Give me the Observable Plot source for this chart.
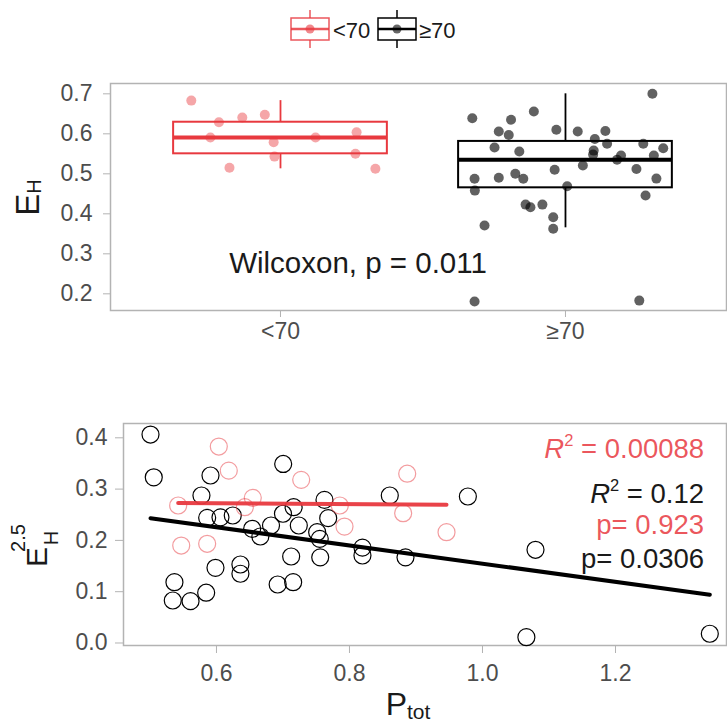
<!DOCTYPE html>
<html>
<head>
<meta charset="utf-8">
<script src="https://cdn.jsdelivr.net/npm/d3@7"></script>
<script src="https://cdn.jsdelivr.net/npm/@observablehq/plot@0.6"></script>
<style>
  body { margin: 0; background: #fff; font-family: "Liberation Sans", Arial, sans-serif; }
  #chart { width: 727px; height: 725px; position: relative; }
  svg { display: block; }
  g[aria-label$="axis tick"] path, .tick line { stroke: #b3b3b3; }
</style>
</head>
<body>
<div id="chart"></div>
<script>
// ---------- data ----------
const groups = ["<70", "≥70"];
const red = "#e8393f";
const groupColors = [red, "#000000"];

// Top panel: E_H per sample, with the horizontal jitter offset (category units)
const ehLow = [0.683, 0.629, 0.641, 0.6475, 0.591, 0.579, 0.591, 0.543, 0.515, 0.604, 0.550, 0.5125];
const jitLow = [-0.313, -0.216, -0.134, -0.055, -0.246, -0.024, 0.123, -0.021, -0.179, 0.267, 0.263, 0.333];
const ehHigh = [0.639, 0.635, 0.656, 0.606, 0.597, 0.610, 0.606, 0.607, 0.587, 0.575, 0.575, 0.564, 0.566,
                0.556, 0.558, 0.548, 0.546, 0.535, 0.546, 0.521, 0.510, 0.512, 0.4875, 0.490, 0.500, 0.4875,
                0.488, 0.458, 0.469, 0.446, 0.423, 0.4165, 0.423, 0.3915, 0.3625, 0.371, 0.700, 0.181, 0.183];
const jitHigh = [-0.327, -0.191, -0.111, -0.234, -0.199, -0.032, 0.043, 0.140, 0.103, 0.146, 0.273, 0.343, -0.249,
                 -0.162, 0.099, 0.097, 0.195, 0.181, 0.310, 0.061, -0.038, 0.249, -0.319, -0.234, -0.176, -0.148,
                 0.319, -0.318, 0.006, 0.281, -0.140, -0.123, -0.081, -0.043, -0.043, -0.284, 0.305, -0.319, 0.259];
const boxQ1 = [0.550, 0.465];
const boxMedian = [0.591, 0.535];
const boxQ3 = [0.629, 0.581];
const whiskerLo = [0.5125, 0.365];
const whiskerHi = [0.683, 0.700];
const topYTicks = [0.2, 0.3, 0.4, 0.5, 0.6, 0.7];
const wilcoxLabel = "Wilcoxon, p = 0.011";

// Bottom panel: P_tot vs E_H^2.5
const pLow   = [0.6035, 0.6185, 0.7274, 0.5424, 0.6546, 0.6426, 0.7854, 0.7925, 0.547, 0.586, 0.8868, 0.8807, 0.9459];
const e25Low = [0.383, 0.336, 0.318, 0.268, 0.283, 0.2647, 0.268, 0.227, 0.190, 0.1934, 0.330, 0.253, 0.216];
const pHigh   = [0.5008, 0.5057, 0.591, 0.5774, 0.7003, 0.586, 0.606, 0.6245, 0.6537, 0.666, 0.682, 0.700, 0.716,
                 0.7238, 0.7514, 0.7553, 0.7624, 0.768, 0.756, 0.7123, 0.5985, 0.636, 0.636, 0.5368, 0.5343, 0.561,
                 0.5845, 0.692, 0.7153, 0.8195, 0.8195, 0.8606, 0.8842, 0.978, 1.0797, 1.066, 1.3418];
const e25High = [0.4064, 0.323, 0.3265, 0.2875, 0.349, 0.244, 0.245, 0.2485, 0.2226, 0.2076, 0.229, 0.252, 0.2647,
                 0.229, 0.216, 0.203, 0.279, 0.2433, 0.167, 0.1686, 0.1466, 0.153, 0.135, 0.1185, 0.0828, 0.0815,
                 0.098, 0.114, 0.1185, 0.186, 0.1706, 0.2875, 0.167, 0.2856, 0.1817, 0.0113, 0.018];
const fitLowX = [0.5424, 0.9459], fitLowY = [0.273, 0.2694];
const fitHighX = [0.5008, 1.3418], fitHighY = [0.2433, 0.094];
const r2Labels = ["0.00088", "0.12"];
const pLabels = ["0.923", "0.0306"];
const bottomXTicks = [0.6, 0.8, 1.0, 1.2];
const bottomYTicks = [0.0, 0.1, 0.2, 0.3, 0.4];

// ---------- helpers ----------
const fmt1 = d3.format(".1f");
const baseStyle = {fontFamily: "'Liberation Sans', Arial, sans-serif", fontSize: "23px", color: "#4d4d4d", background: "white", overflow: "visible"};
const root = document.getElementById("chart");

// ---------- legend ----------
const legend = d3.create("svg").attr("width", 727).attr("height", 60);
const keyCx = [310, 397], keyTx = [333, 419];
groups.forEach((g, i) => {
  const c = groupColors[i], cx = keyCx[i];
  const k = legend.append("g").attr("stroke", c).attr("fill", "none").attr("stroke-opacity", i === 0 ? 0.85 : 1);
  k.append("line").attr("x1", cx).attr("x2", cx).attr("y1", 10).attr("y2", 18).attr("stroke-width", 1.5);
  k.append("line").attr("x1", cx).attr("x2", cx).attr("y1", 40).attr("y2", 48).attr("stroke-width", 1.5);
  k.append("rect").attr("x", cx - 19).attr("y", 18).attr("width", 38).attr("height", 22).attr("stroke-width", 1.5);
  k.append("line").attr("x1", cx - 19).attr("x2", cx + 19).attr("y1", 29).attr("y2", 29).attr("stroke-width", 2.5);
  legend.append("circle").attr("cx", cx).attr("cy", 29).attr("r", 4.5).attr("fill", c).attr("fill-opacity", 0.6);
  legend.append("text").attr("x", keyTx[i]).attr("y", 38).attr("font-size", 22)
    .attr("font-family", "'Liberation Sans', Arial, sans-serif").attr("fill", "#1a1a1a").text(g);
});
root.appendChild(legend.node());

// ---------- top panel ----------
const boxes = groups.map((g, i) => ({pos: i + 1, q1: boxQ1[i], med: boxMedian[i], q3: boxQ3[i], lo: whiskerLo[i], hi: whiskerHi[i]}));
const topPts = [
  ehLow.map((v, i) => ({x: 1 + jitLow[i], y: v})),
  ehHigh.map((v, i) => ({x: 2 + jitHigh[i], y: v}))
];
const halfW = 0.375;
const topMarks = [Plot.frame({stroke: "#b3b3b3", strokeWidth: 1.5})];
groups.forEach((g, i) => {
  const c = groupColors[i], b = [boxes[i]];
  topMarks.push(
    Plot.ruleX(b, {x: "pos", y1: "q3", y2: "hi", stroke: c, strokeWidth: 1.8}),
    Plot.ruleX(b, {x: "pos", y1: "lo", y2: "q1", stroke: c, strokeWidth: 1.8}),
    Plot.rect(b, {x1: d => d.pos - halfW, x2: d => d.pos + halfW, y1: "q1", y2: "q3", fill: "none", stroke: c, strokeWidth: 2}),
    Plot.ruleY(b, {y: "med", x1: d => d.pos - halfW, x2: d => d.pos + halfW, stroke: c, strokeWidth: 4}),
    Plot.dot(topPts[i], {x: "x", y: "y", r: 5, fill: c, fillOpacity: i === 0 ? 0.45 : 0.62, stroke: "none"})
  );
});
topMarks.push(
  Plot.text([wilcoxLabel], {x: 1.272, y: 0.2533, text: d => d, fontSize: 29.5, fill: "#1a1a1a", textAnchor: "middle", lineAnchor: "bottom"}),
  () => {
    const g = d3.create("svg:g").attr("fill", "#1a1a1a").attr("font-family", "'Liberation Sans', Arial, sans-serif");
    const t = g.append("g").attr("transform", "translate(39,137.5) rotate(-90)");
    const txt = t.append("text").attr("text-anchor", "middle").attr("font-size", 33);
    txt.append("tspan").text("E");
    txt.append("tspan").attr("font-size", 20).attr("dy", 2).text("H");
    return g.node();
  }
);
const topPlot = Plot.plot({
  width: 727, height: 300,
  marginTop: 23, marginBottom: 50, marginLeft: 110, marginRight: 1,
  style: baseStyle,
  x: {domain: [0.4035, 2.565], ticks: [1, 2], tickFormat: d => groups[Math.round(d) - 1], tickSize: 7, tickPadding: 5, label: null},
  y: {domain: [0.1583, 0.7258], ticks: topYTicks, tickFormat: fmt1, tickSize: 7, tickPadding: 11, label: null},
  marks: topMarks
});
root.appendChild(topPlot);

// ---------- bottom panel ----------
const lowPts = pLow.map((p, i) => ({x: p, y: e25Low[i]}));
const highPts = pHigh.map((p, i) => ({x: p, y: e25High[i]}));
const fitLow = fitLowX.map((x, i) => ({x, y: fitLowY[i]}));
const fitHigh = fitHighX.map((x, i) => ({x, y: fitHighY[i]}));
const statItems = [
  {y: 0.3596, color: red, r2: r2Labels[0]},
  {y: 0.272, color: "#1a1a1a", r2: r2Labels[1]},
  {y: 0.2115, color: red, p: pLabels[0]},
  {y: 0.1452, color: "#1a1a1a", p: pLabels[1]}
];
const statMark = (index, scales) => {
  const g = d3.create("svg:g").attr("font-family", "'Liberation Sans', Arial, sans-serif");
  const size = 27.5;
  for (const s of statItems) {
    const t = g.append("text").attr("x", scales.x(1.334)).attr("y", scales.y(s.y))
      .attr("text-anchor", "end").attr("font-size", size).attr("fill", s.color).attr("fill-opacity", s.color === red ? 0.85 : 1);
    if (s.r2 != null) {
      t.append("tspan").attr("font-style", "italic").text("R");
      t.append("tspan").attr("font-size", size * 0.6).attr("dy", -size * 0.42).text("2");
      t.append("tspan").attr("dy", size * 0.42).text(" = " + s.r2);
    } else {
      t.append("tspan").text("p= " + s.p);
    }
  }
  // axis titles
  const yt = g.append("g").attr("transform", "translate(47,172) rotate(-90)").attr("fill", "#1a1a1a");
  yt.append("text").attr("x", -25).attr("font-size", 30).text("E");
  yt.append("text").attr("x", -6).attr("y", 11).attr("font-size", 20).text("H");
  yt.append("text").attr("x", -6).attr("y", -22).attr("font-size", 20).text("2.5");
  const xt = g.append("text").attr("x", 408).attr("y", 355).attr("fill", "#1a1a1a").attr("font-size", 32);
  xt.append("tspan").text("P");
  xt.append("tspan").attr("font-size", 21).attr("dy", 4).text("tot");
  return g.node();
};
const bottomPlot = Plot.plot({
  width: 727, height: 365,
  marginTop: 63, marginBottom: 80, marginLeft: 123, marginRight: 1,
  style: baseStyle,
  x: {domain: [0.4602, 1.3669], ticks: bottomXTicks, tickFormat: fmt1, tickSize: 8, tickPadding: 11, label: null},
  y: {domain: [-0.0049, 0.4279], ticks: bottomYTicks, tickFormat: fmt1, tickSize: 8, tickPadding: 8, label: null},
  marks: [
    Plot.frame({stroke: "#b3b3b3", strokeWidth: 1.5}),
    Plot.dot(highPts, {x: "x", y: "y", r: 8.5, fill: "none", stroke: "#000", strokeWidth: 1.2}),
    Plot.dot(lowPts, {x: "x", y: "y", r: 8.5, fill: "none", stroke: red, strokeOpacity: 0.5, strokeWidth: 1.2}),
    Plot.line(fitHigh, {x: "x", y: "y", stroke: "#000", strokeWidth: 4}),
    Plot.line(fitLow, {x: "x", y: "y", stroke: red, strokeOpacity: 0.95, strokeWidth: 4}),
    statMark
  ]
});
root.appendChild(bottomPlot);
</script>
</body>
</html>
